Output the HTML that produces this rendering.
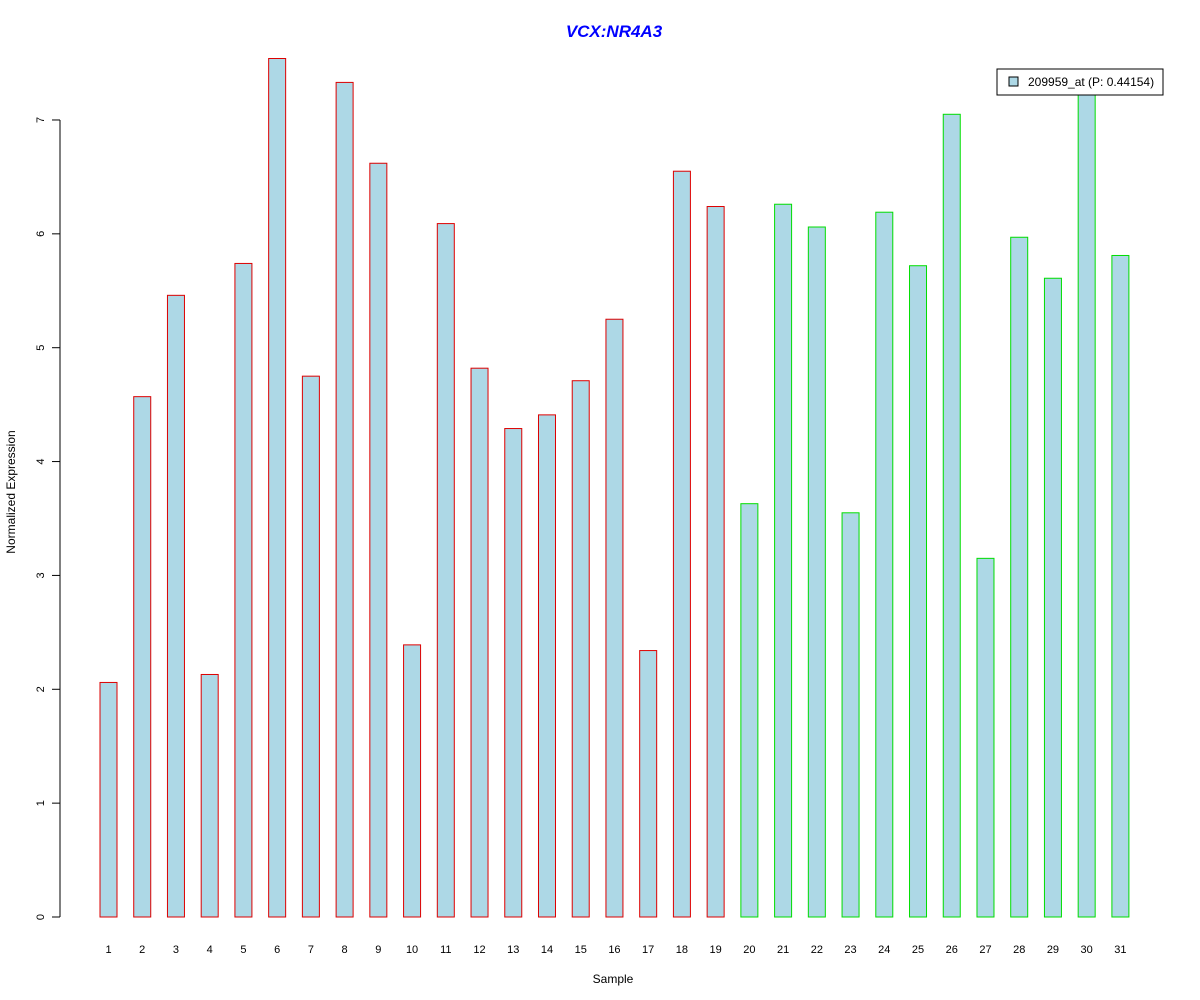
<!DOCTYPE html>
<html><head><meta charset="utf-8"><style>
body{margin:0;background:#fff;}
svg{display:block;font-family:"Liberation Sans",Arial,sans-serif;}
</style></head><body>
<svg id="chart" width="1200" height="1000" viewBox="0 0 1200 1000">
<text x="614" y="37" text-anchor="middle" font-size="17" font-weight="bold" font-style="italic" fill="#0000ff">VCX:NR4A3</text>
<g id="bars"></g>
<g id="yaxis"></g>
<g id="xaxis"></g>
<text transform="translate(15,492) rotate(-90)" text-anchor="middle" font-size="12">Normalized Expression</text>
<text x="613" y="983" text-anchor="middle" font-size="12">Sample</text>
<g>
<rect x="997" y="69" width="166" height="26" fill="#fff" stroke="#000" stroke-width="1"/>
<rect x="1009" y="77" width="9" height="9" fill="#add8e6" stroke="#000"/>
<text x="1028" y="86" font-size="12">209959_at (P: 0.44154)</text>
</g>
</svg>
<script>
const categories = ["1","2","3","4","5","6","7","8","9","10","11","12","13","14","15","16","17","18","19","20","21","22","23","24","25","26","27","28","29","30","31"];
const values = [2.06,4.57,5.46,2.13,5.74,7.54,4.75,7.33,6.62,2.39,6.09,4.82,4.29,4.41,4.71,5.25,2.34,6.55,6.24,3.63,6.26,6.06,3.55,6.19,5.72,7.05,3.15,5.97,5.61,7.3,5.81];
const groups = ["a","a","a","a","a","a","a","a","a","a","a","a","a","a","a","a","a","a","a","b","b","b","b","b","b","b","b","b","b","b","b"];
const yTicks = [0,1,2,3,4,5,6,7];
const NS="http://www.w3.org/2000/svg";
const y0=917, pxPerUnit=113.86;
function yScale(v){return y0 - v*pxPerUnit;}
function xScale(i){return 108.5 + i*33.73;}
const bw=17;
const bars=document.getElementById('bars');
values.forEach((v,i)=>{
  const r=document.createElementNS(NS,'rect');
  
  
  r.setAttribute('x',xScale(i)-bw/2);
  r.setAttribute('y',yScale(v));
  r.setAttribute('width',bw);
  r.setAttribute('height',y0-yScale(v));
  r.setAttribute('fill','#add8e6');
  r.setAttribute('stroke',groups[i]==='a'?'#dd0000':'#00dd00');
  bars.appendChild(r);
  const t=document.createElementNS(NS,'text');
  
  
  t.setAttribute('x',xScale(i));
  t.setAttribute('y',953);
  t.setAttribute('text-anchor','middle');
  t.setAttribute('font-size','11');
  t.textContent=categories[i];
  document.getElementById('xaxis').appendChild(t);
});
const ya=document.getElementById('yaxis');
const line=document.createElementNS(NS,'line');


line.setAttribute('x1',60);line.setAttribute('x2',60);
line.setAttribute('y1',yScale(yTicks[0]));line.setAttribute('y2',yScale(yTicks[yTicks.length-1]));
line.setAttribute('stroke','#000');
ya.appendChild(line);
yTicks.forEach(v=>{
  const tk=document.createElementNS(NS,'line');
  
  
  tk.setAttribute('x1',52);tk.setAttribute('x2',60);
  tk.setAttribute('y1',yScale(v));tk.setAttribute('y2',yScale(v));
  tk.setAttribute('stroke','#000');
  ya.appendChild(tk);
  const t=document.createElementNS(NS,'text');
  
  
  t.setAttribute('transform','translate(44,'+yScale(v)+') rotate(-90)');
  t.setAttribute('text-anchor','middle');
  t.setAttribute('font-size','11');
  t.textContent=v;
  ya.appendChild(t);
});
</script>
</body></html>
